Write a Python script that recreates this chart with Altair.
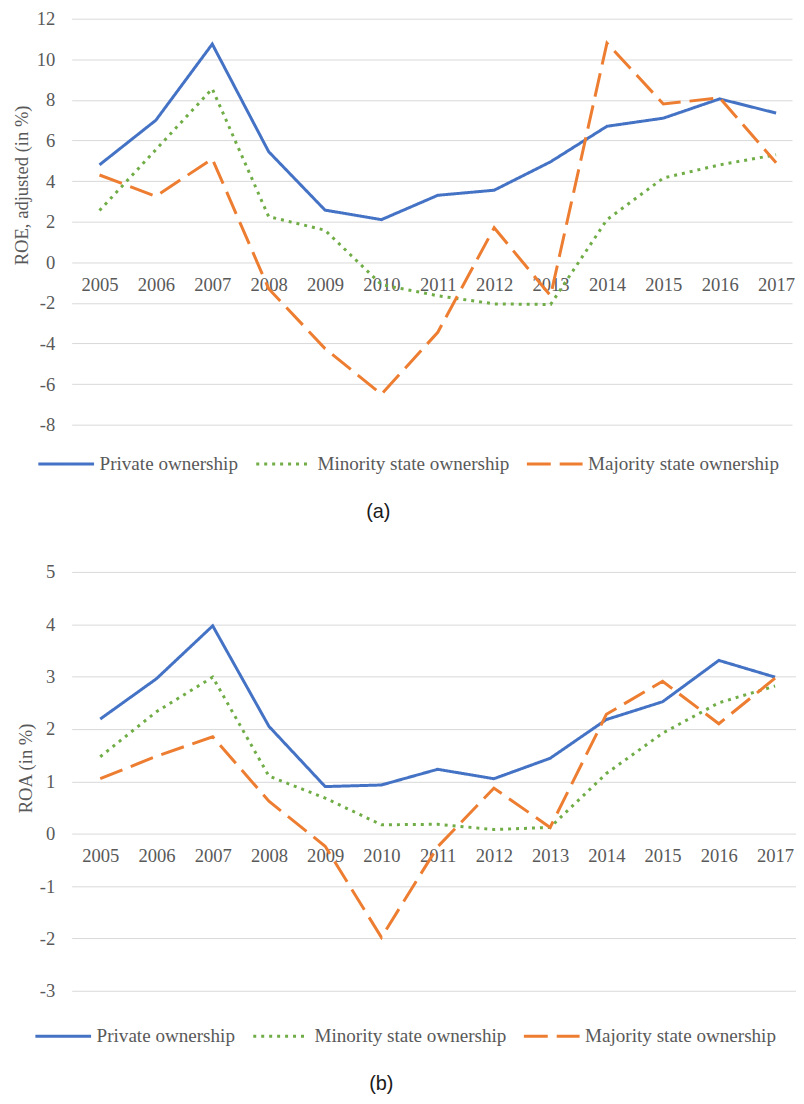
import altair as alt
import pandas as pd

years = [str(y) for y in range(2005, 2018)]
series_names = ["Private ownership", "Minority state ownership", "Majority state ownership"]
series_colors = ["#4472C4", "#70AD47", "#ED7D31"]
series_dashes = [[1, 0], [3, 5], [24, 9]]

# Panel (a): ROE, adjusted (in %)
roe_private = [4.8, 7.0, 10.75, 5.45, 2.57, 2.1, 3.3, 3.55, 4.95, 6.7, 7.1, 8.05, 7.35]
roe_minority = [2.55, 5.55, 8.55, 2.25, 1.58, -1.1, -1.65, -2.05, -2.08, 2.1, 4.15, 4.8, 5.3]
roe_majority = [4.3, 3.25, 5.1, -1.3, -4.25, -6.5, -3.45, 1.7, -1.65, 10.8, 7.8, 8.1, 4.9]

# Panel (b): ROA (in %)
roa_private = [2.19, 2.96, 3.97, 2.05, 0.9, 0.93, 1.23, 1.05, 1.44, 2.18, 2.52, 3.31, 2.99]
roa_minority = [1.47, 2.33, 2.99, 1.1, 0.68, 0.17, 0.18, 0.08, 0.12, 1.15, 1.92, 2.5, 2.82]
roa_majority = [1.05, 1.48, 1.85, 0.62, -0.24, -1.98, -0.25, 0.87, 0.12, 2.28, 2.91, 2.1, 2.97]

roe_ticks = [-8, -6, -4, -2, 0, 2, 4, 6, 8, 10, 12]
roa_ticks = [-3, -2, -1, 0, 1, 2, 3, 4, 5]

SERIF = "Liberation Serif, Times New Roman, serif"
GRAY = "#595959"
FS = 18.67
LFS = 19.2


def make_df(vals_list):
    rows = []
    for name, vals in zip(series_names, vals_list):
        for y, v in zip(years, vals):
            rows.append({"year": y, "series": name, "value": v})
    return pd.DataFrame(rows)


def panel(df, ytitle, ydomain, yvalues, W, H, xpad, xalign, xoffset, titleX, titleY,
          legendX, legendY, caption, caption_dx, caption_offset):
    legend = alt.Legend(
        title=None, orient="none", legendX=legendX, legendY=legendY,
        direction="horizontal", symbolType="stroke", symbolSize=3136,
        symbolStrokeWidth=3, labelFont=SERIF, labelFontSize=LFS,
        labelColor=GRAY, labelOffset=4, columnPadding=11, labelLimit=400,
    )
    color_scale = alt.Scale(domain=series_names, range=series_colors)
    dash_scale = alt.Scale(domain=series_names, range=series_dashes)
    return alt.Chart(df).mark_line(strokeWidth=3).encode(
        x=alt.X("year:O", sort=years,
                scale=alt.Scale(type="point", padding=xpad, align=xalign),
                axis=alt.Axis(title=None, domain=False, ticks=False, tickSize=0,
                              grid=False, labelAngle=0, labelFont=SERIF,
                              labelFontSize=FS, labelColor=GRAY,
                              labelPadding=22, labelBaseline="middle",
                              offset=xoffset)),
        y=alt.Y("value:Q",
                scale=alt.Scale(domain=ydomain, nice=False, zero=False),
                axis=alt.Axis(title=ytitle, values=yvalues, domain=False,
                              ticks=False, tickSize=0, grid=True,
                              gridColor="#D9D9D9", gridWidth=1,
                              labelExpr="datum.value + ''",
                              labelPadding=17, labelFont=SERIF,
                              labelFontSize=FS, labelColor=GRAY,
                              titleFont=SERIF, titleFontSize=FS,
                              titleFontWeight="normal", titleColor=GRAY,
                              titleX=titleX, titleY=titleY,
                              titleBaseline="middle")),
        color=alt.Color("series:N", scale=color_scale, sort=series_names, legend=legend),
        strokeDash=alt.StrokeDash("series:N", scale=dash_scale, sort=series_names, legend=legend),
    ).properties(
        width=W, height=H,
        title=alt.TitleParams(caption, orient="bottom", anchor="start", frame="group",
                              font="Liberation Sans", fontSize=20, fontWeight="normal",
                              color="#1a1a1a", dx=caption_dx, offset=caption_offset),
    )


roe_df = make_df([roe_private, roe_minority, roe_majority])
roa_df = make_df([roa_private, roa_minority, roa_majority])

Ha = 408
Hb = 421
pa = panel(roe_df, "ROE, adjusted (in %)", [-8, 12], roe_ticks, 724, Ha, 0.388, 0.636,
           -(Ha - Ha * 12 / 20), -50, 167, -35, 418, "(a)", 296, 28)
pb = panel(roa_df, "ROA (in %)", [-3, 5], roa_ticks, 728, Hb, 0.44, 0.577,
           -(Hb - Hb * 5 / 8), -46, 197, -38, 437, "(b)", 299, 28)

chart = alt.vconcat(pa, pb, spacing=41).resolve_scale(
    x="independent", y="independent", color="independent", strokeDash="independent"
).resolve_legend(
    color="independent", strokeDash="independent"
).properties(
    padding={"left": 5, "top": -1, "right": 0, "bottom": 0},
    background="white",
).configure_view(strokeWidth=0)

chart.save("out.html", embed_options={"renderer": "svg", "actions": False})
